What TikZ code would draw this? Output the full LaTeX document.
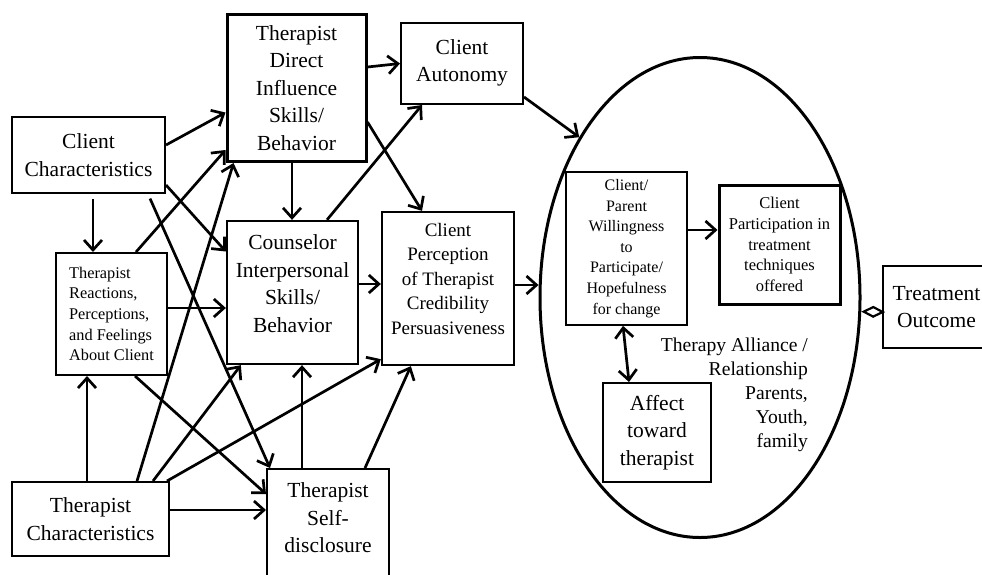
\documentclass[tikz,border=0pt]{standalone}
\usepackage{fontspec}
\setmainfont{Liberation Serif}
\usetikzlibrary{arrows.meta,shapes.geometric}
\begin{document}
\begin{tikzpicture}[x=1pt,y=-1pt,
  box/.style={draw, line width=2pt, rectangle, inner sep=2pt, align=center,
    font=\fontsize{21.5}{27.5}\selectfont},
  midbox/.style={box, font=\fontsize{19}{24.5}\selectfont},
  smallbox/.style={box, font=\fontsize{16.3}{20.7}\selectfont},
  arr/.style={line width=2.7pt, -{Straight Barb[length=10pt,width=18pt]}},
  dblarr/.style={line width=2.7pt, {Straight Barb[length=10pt,width=18pt]}-{Straight Barb[length=10pt,width=18pt]}},
  link/.style={line width=2.2pt, -{Diamond[open,length=24pt,width=12pt]}}]
\useasboundingbox (0,0) rectangle (982,574);
\clip (0,0) rectangle (982,574);

% big ellipse
\node[ellipse, draw, line width=3pt, minimum width=320pt, minimum height=480pt, inner sep=0pt] (E) at (700,297.5) {};

% boxes
\node[box, minimum width=153pt, minimum height=76pt] (CC) at (88.5,155) {Client\\Characteristics};
\node[box, line width=3pt, minimum width=139pt, minimum height=147pt] (TDI) at (296.5,88) {Therapist\\Direct\\Influence\\Skills/\\Behavior};
\node[box, minimum width=122pt, minimum height=81pt] (CA) at (462,63.5) {Client\\Autonomy\\[-21.5pt]\mbox{}};
\node[smallbox, align=left, minimum width=111pt, minimum height=122pt] (TR) at (111.5,314) {Therapist\\Reactions,\\Perceptions,\\and Feelings\\About Client};
\node[box, line width=2.3pt, minimum width=131pt, minimum height=143pt] (CI) at (292.5,292.5) {Counselor\\Interpersonal\\Skills/\\Behavior\\[-9.5pt]\mbox{}};
\node[midbox, line width=2.3pt, minimum width=132pt, minimum height=153pt] (CP) at (448,288.5) {Client\\Perception\\of Therapist\\Credibility\\Persuasiveness\\[-4.5pt]\mbox{}};
\node[box, minimum width=157pt, minimum height=74pt] (TC) at (90.5,519) {Therapist\\Characteristics};
\node[box, minimum width=122pt, minimum height=110pt] (TSD) at (328,524) {Therapist\\Self-\\disclosure\\[-15.5pt]\mbox{}};
\node[smallbox, font=\fontsize{16}{20.6}\selectfont, line width=1.7pt, minimum width=121pt, minimum height=153pt] (CPW) at (626.5,248.5) {Client/\\Parent\\Willingness\\to\\Participate/\\Hopefulness\\for change};
\node[smallbox, font=\fontsize{16.5}{20.7}\selectfont, line width=3pt, minimum width=121pt, minimum height=119pt] (CPT) at (779.5,244.5) {Client\\Participation in\\treatment\\techniques\\offered};
\node[box, minimum width=108pt, minimum height=99pt] (AT) at (657,432.5) {Affect\\toward\\therapist};
\node[box, line width=2.5pt, minimum width=107pt, minimum height=82pt] (TO) at (936.5,307) {Treatment\\Outcome};

\node[align=right, anchor=north east, inner sep=0pt, font=\fontsize{19.6}{24}\selectfont] (TA) at (808,338) {Therapy Alliance /\\Relationship\\Parents,\\Youth,\\family};

% connectors
\draw[arr] ([yshift=10pt]CC.east) -- ([yshift=-24.5pt]TDI.west);
\draw[arr] ([yshift=-30pt]CC.east) -- ([yshift=41pt]CI.west);
\draw[arr, shorten <=5pt] ([xshift=4.5pt]CC.south) -- ([xshift=4.5pt]CC.south |- TR.north);
\draw[arr, shorten <=5pt] ([xshift=59.5pt]CC.south) -- ([xshift=4pt]TSD.north west);
\draw[arr] ([xshift=24.5pt]TR.north) -- ([yshift=13pt]TDI.south west);
\draw[arr] ([xshift=46.5pt]TC.north) -- ([xshift=8pt]TDI.south west);
\draw[arr] ([yshift=6pt]TR.east) -- ([yshift=6pt]TR.east -| CI.west);
\draw[arr] ([xshift=23.5pt]TR.south) -- ([yshift=30pt]TSD.west);
\draw[arr] ([xshift=-3.5pt]TC.north) -- ([xshift=-3.5pt]TC.north |- TR.south);
\draw[arr] ([xshift=62.5pt]TC.north) -- ([xshift=15pt]CI.south west);
\draw[arr] ([xshift=-3pt]TC.north east) -- ([yshift=7pt]CP.south west);
\draw[arr] ([yshift=9pt]TC.east) -- ([yshift=9pt]TC.east -| TSD.west);
\draw[arr] ([xshift=-4.5pt]TDI.south) -- ([xshift=-4.5pt]TDI.south |- CI.north);
\draw[arr] ([yshift=21pt]TDI.east) -- (CA.west);
\draw[arr] ([yshift=-34pt]TDI.east) -- ([xshift=-26pt]CP.north);
\draw[arr] ([xshift=34.5pt]CI.north) -- ([xshift=22pt]CA.south west);
\draw[arr] ([yshift=8.5pt]CI.east) -- ([yshift=8.5pt]CI.east -| CP.west);
\draw[arr] ([yshift=3.5pt]CP.east) -- ([yshift=3.5pt]CP.east -| E.west);
\draw[arr] ([yshift=8pt]CA.south east) -- (E.127);
\draw[arr] ([xshift=-26pt]TSD.north) -- ([xshift=-26pt]TSD.north |- CI.south);
\draw[arr] ([xshift=37pt]TSD.north) -- ([xshift=30pt]CP.south west);
\draw[arr] ([yshift=18.5pt]CPW.east) -- ([yshift=18.5pt]CPW.east -| CPT.west);
\draw[dblarr] ([xshift=-3.5pt]CPW.south) -- ([xshift=-28pt]AT.north);
\draw[link] ([yshift=-5pt]TO.west) -- (E.-5);
\end{tikzpicture}
\end{document}
